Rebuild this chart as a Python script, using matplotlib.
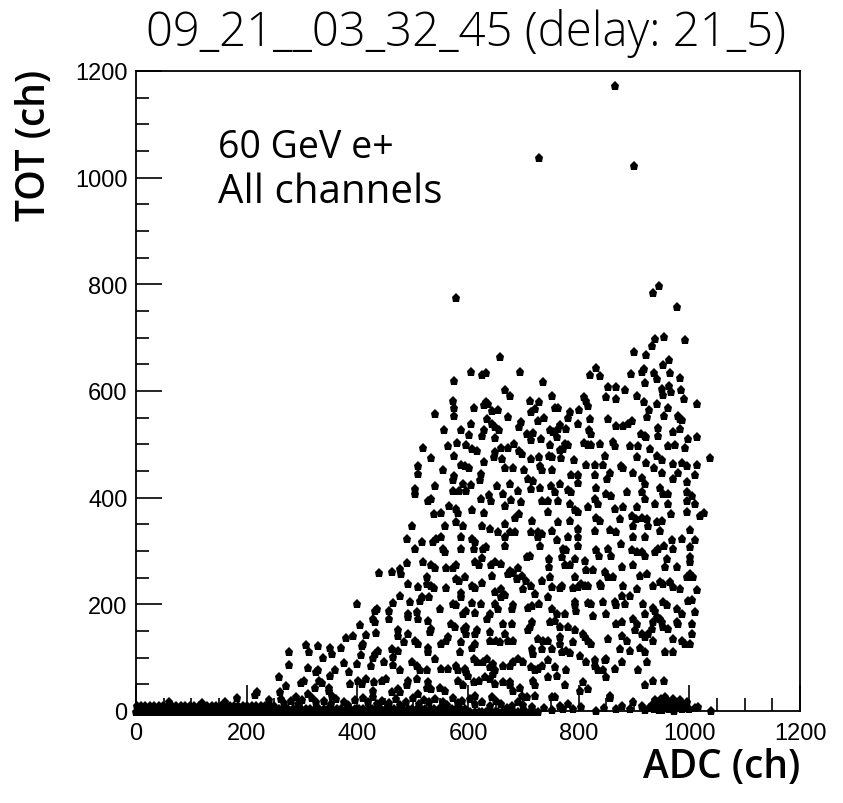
import numpy as np
import matplotlib.pyplot as plt
from matplotlib.ticker import MultipleLocator

# ADC vs TOT scatter

# saturated band near TOT=0: x positions of each row, and the TOT level of the row
band_levels = [-2, 4, 10]
band_row0 = [0, 7, 14, 21, 28, 36, 43, 50, 57, 64, 72, 79, 86, 93, 100, 108, 115, 122, 129, 136,
             144, 151, 158, 165, 172, 180, 187, 194, 201, 208, 216, 223, 230, 237, 244, 252, 259,
             266, 273, 280, 288, 295, 302, 309, 316, 324, 331, 338, 345, 352, 360, 367, 374, 381,
             388, 396, 403, 410, 417, 424, 432, 439, 446, 453, 460, 468, 475, 482, 489, 496, 504,
             511, 518, 525, 532, 540, 547, 554, 561, 568, 576, 583, 590, 597, 604, 612, 619, 626,
             633, 640, 648, 655, 662, 669, 676, 684, 691, 698, 705, 712, 720, 727]
band_row1 = [3, 11, 19, 27, 35, 43, 51, 59, 67, 75, 83, 91, 99, 107, 115, 123, 131, 139, 147, 155,
             163, 171, 179, 187, 195, 203, 211, 219, 227, 235, 243, 251, 259, 267, 275, 283, 291,
             299, 307, 315, 323, 331, 339, 347, 355, 363, 371, 379, 387, 395, 403, 411, 419, 427,
             435, 443, 451, 459, 467, 475, 483, 491, 499, 507, 515, 523, 531, 539, 547, 555, 563,
             571, 579, 587, 595]
band_row2 = [1, 9, 17, 25, 33, 41, 49, 57, 65, 73, 81, 89, 97, 105, 113, 121, 129, 137, 145, 153,
             161, 169, 177, 185, 193, 201, 209, 217, 225, 233, 241, 249]
band_extra = [(182, 24), (215, 30), (240, 20), (262, 22), (280, 18), (300, 20), (318, 24), (340, 18),
              (362, 22), (375, 17), (395, 20), (410, 24), (445, 18), (470, 22), (488, 17), (500, 24),
              (520, 20), (540, 22), (555, 16), (572, 24), (590, 18), (603, 22), (625, 16), (660, 14),
              (680, 10), (700, 12), (715, 8), (690, 16), (268, 15), (292, 13), (326, 16), (352, 14),
              (384, 12), (420, 16), (436, 13), (458, 15), (478, 12), (512, 14), (530, 16), (562, 12),
              (582, 15), (612, 13), (640, 10), (650, 18), (670, 6), (60, 16), (120, 15), (160, 17),
              (738, 6), (752, 2), (766, 9), (772, 4), (781, 13), (790, 3), (805, 8), (832, 0),
              (846, 6), (868, 4), (878, 10), (892, 4), (899, 16), (914, 10), (920, 2),
              (928, 5), (932, 12), (936, 3), (940, 16), (944, 8), (948, 22), (950, 2), (952, 14),
              (956, 26), (958, 7), (962, 18), (964, 3), (968, 11), (970, 22), (974, 5), (976, 15),
              (980, 9), (983, 20), (986, 3), (990, 12), (993, 6), (996, 17), (1000, 4), (938, 20),
              (960, 10), (972, 0), (984, 14), (946, 1), (1010, 5), (1016, 7), (1040, 0)]

cloud_left = [(440, 258), (462, 261), (400, 200), (432, 188), (436, 191), (458, 188), (465, 202),
              (405, 161), (429, 172), (432, 166), (458, 172), (379, 136), (392, 140), (416, 142),
              (434, 146), (411, 126), (408, 122), (370, 118), (351, 118), (354, 107), (329, 121),
              (308, 124), (313, 110), (277, 111), (277, 86), (338, 99), (406, 105), (428, 99),
              (432, 107), (438, 113), (462, 116), (465, 101), (376, 90), (399, 88), (424, 85),
              (448, 91), (465, 86), (311, 80), (325, 74), (329, 77), (360, 77), (385, 73), (351, 65),
              (259, 64), (299, 52), (304, 57), (331, 57), (336, 52), (271, 47), (323, 44), (348, 43),
              (387, 51), (402, 57), (408, 51), (416, 60), (430, 54), (444, 57), (452, 60), (261, 36),
              (219, 35), (311, 32), (290, 26), (348, 38), (354, 29), (429, 38), (462, 35), (429, 26)]

cloud_mid_upper = [(657, 664), (605, 636), (626, 630), (632, 634), (694, 636), (575, 619), (736, 616),
                   (667, 601), (676, 591), (572, 582), (575, 569), (575, 554), (541, 557), (611, 569),
                   (632, 580), (637, 576), (629, 574), (643, 563), (655, 565), (673, 551), (712, 582),
                   (728, 579), (721, 566), (714, 560), (738, 549), (726, 544), (696, 541), (692, 532),
                   (634, 547), (644, 538), (649, 532), (656, 527), (605, 538), (557, 526), (587, 526),
                   (602, 517), (629, 527), (626, 515), (649, 511), (706, 519), (718, 522), (714, 509),
                   (732, 510), (563, 496), (581, 502), (596, 499), (608, 491), (616, 488), (519, 493),
                   (575, 479), (534, 474), (649, 485), (647, 476), (660, 494), (662, 472), (673, 494),
                   (684, 501), (692, 488), (697, 482), (629, 467), (714, 472), (728, 476), (730, 460),
                   (733, 451), (702, 451), (667, 455), (682, 455), (587, 461), (594, 459), (602, 455),
                   (554, 452), (510, 459), (510, 444), (623, 444), (622, 434), (575, 440), (572, 434),
                   (541, 421), (504, 417), (505, 407), (573, 413), (584, 413), (591, 426), (605, 424),
                   (596, 413), (652, 422), (664, 407), (676, 426), (691, 413), (709, 435), (718, 432),
                   (714, 417), (730, 419), (527, 394), (533, 397), (623, 397), (638, 405), (641, 394),
                   (678, 396), (696, 391), (733, 394), (566, 385), (579, 378), (582, 372), (608, 376),
                   (629, 371), (666, 385), (692, 369), (685, 361), (715, 357), (539, 369), (552, 372),
                   (499, 347), (558, 346), (579, 354), (591, 347), (626, 347), (640, 341), (654, 335),
                   (667, 351), (676, 335), (685, 335), (714, 335), (726, 335), (733, 332)]

cloud_mid_lower = [(489, 323), (504, 304), (516, 316), (537, 316), (543, 323), (552, 326), (555, 304),
                   (558, 298), (587, 326), (588, 304), (607, 323), (613, 316), (610, 304), (628, 304),
                   (632, 307), (667, 326), (667, 310), (712, 291), (706, 288), (730, 310), (727, 326),
                   (477, 266), (479, 257), (489, 277), (519, 279), (534, 274), (540, 269), (561, 269),
                   (573, 269), (578, 273), (594, 251), (613, 279), (619, 273), (626, 287), (641, 274),
                   (649, 279), (660, 276), (676, 263), (682, 258), (673, 257), (691, 269), (697, 254),
                   (643, 254), (492, 238), (510, 232), (525, 238), (525, 251), (539, 231), (533, 235),
                   (561, 231), (579, 248), (584, 244), (607, 235), (613, 231), (626, 240), (649, 223),
                   (660, 229), (660, 213), (666, 218), (688, 248), (704, 244), (714, 235), (700, 229),
                   (721, 219), (733, 244), (477, 216), (495, 204), (516, 213), (513, 207), (529, 214),
                   (587, 221), (587, 213), (573, 201), (578, 198), (549, 191), (608, 202), (623, 201),
                   (596, 188), (591, 182), (613, 183), (640, 182), (635, 173), (649, 201), (655, 191),
                   (679, 191), (682, 198), (709, 194), (715, 196), (728, 200), (492, 182), (492, 176),
                   (507, 185), (510, 173), (528, 169), (570, 163), (576, 157), (534, 154), (531, 148),
                   (593, 154), (597, 144), (596, 157), (616, 151), (613, 144), (640, 148), (664, 163),
                   (679, 163), (667, 144), (673, 132), (682, 132), (712, 157), (715, 166), (709, 151),
                   (727, 135), (736, 132), (473, 151), (474, 141), (492, 144), (510, 126), (504, 132),
                   (485, 129), (528, 110), (528, 119), (552, 126), (561, 132), (564, 138), (587, 129),
                   (585, 110), (607, 119), (613, 126), (640, 132), (650, 131), (657, 129), (474, 113),
                   (477, 76), (498, 91), (507, 85), (513, 76), (525, 76), (540, 98), (552, 79), (563, 79),
                   (579, 85), (582, 76), (594, 79), (597, 73), (600, 66), (610, 98), (616, 91), (628, 91),
                   (634, 98), (640, 82), (648, 76), (646, 88), (664, 85), (676, 85), (682, 91), (691, 98),
                   (700, 91), (715, 116), (718, 107), (733, 116), (714, 82), (721, 76), (733, 85),
                   (492, 57), (489, 48), (507, 60), (528, 54), (525, 44), (534, 41), (549, 44), (558, 38),
                   (582, 57), (591, 48), (611, 54), (619, 57), (631, 63), (640, 60), (646, 69), (649, 51),
                   (664, 54), (676, 54), (676, 48), (694, 44), (727, 79), (718, 57), (721, 48), (682, 38),
                   (697, 29), (706, 26), (613, 29), (643, 26), (721, 29), (474, 41), (477, 35), (510, 32)]

cloud_right_upper = [(938, 698), (955, 701), (992, 696), (933, 685), (900, 674), (921, 668), (964, 658),
                     (832, 643), (820, 630), (838, 628), (894, 631), (914, 635), (918, 641), (937, 634),
                     (941, 622), (952, 648), (965, 634), (983, 624), (920, 615), (853, 607), (868, 607),
                     (884, 602), (850, 588), (868, 585), (905, 591), (918, 580), (950, 604), (953, 593),
                     (963, 610), (967, 598), (985, 601), (991, 585), (1013, 576), (941, 576), (961, 569),
                     (927, 565), (924, 551), (955, 553), (979, 554), (983, 548), (986, 546), (810, 588),
                     (814, 582), (817, 571), (752, 591), (757, 568), (762, 569), (784, 560), (781, 549),
                     (800, 565), (820, 548), (853, 548), (868, 535), (881, 534), (890, 538), (897, 544),
                     (766, 536), (763, 529), (748, 526), (754, 524), (760, 513), (778, 529), (798, 538),
                     (818, 526), (822, 519), (912, 519), (920, 516), (921, 513), (943, 530), (943, 516),
                     (971, 524), (983, 529), (998, 510), (1013, 513), (748, 499), (775, 501), (772, 491),
                     (781, 498), (766, 490), (810, 503), (817, 498), (823, 499), (838, 501), (862, 504),
                     (865, 496), (893, 496), (908, 496), (929, 491), (961, 496), (974, 499), (992, 494),
                     (746, 479), (751, 476), (768, 474), (792, 471), (847, 479), (814, 461), (829, 461),
                     (844, 461), (876, 460), (881, 455), (905, 477), (921, 465), (941, 479), (951, 471),
                     (971, 464), (986, 465), (995, 460), (1013, 461), (752, 451), (787, 442), (799, 442),
                     (829, 442), (856, 447), (852, 435), (899, 446), (915, 436), (920, 426), (937, 455),
                     (950, 446), (971, 435), (979, 446), (995, 430), (1010, 442), (750, 422), (757, 411),
                     (766, 426), (781, 415), (786, 410), (798, 428), (832, 419), (850, 407), (859, 404),
                     (887, 410), (914, 410), (920, 398), (947, 419), (953, 407), (962, 407), (995, 411),
                     (1004, 404), (745, 394), (763, 394), (784, 388), (799, 373), (793, 376), (817, 382),
                     (829, 398), (835, 388), (865, 379), (881, 382), (906, 382), (938, 388), (962, 388),
                     (995, 394), (1010, 388), (745, 374), (763, 355), (751, 338), (784, 357), (799, 342),
                     (832, 361), (838, 357), (829, 338), (856, 340), (875, 360), (897, 366), (903, 360),
                     (914, 361), (923, 360), (925, 347), (941, 355), (950, 357), (899, 347), (967, 369),
                     (995, 374), (1019, 366), (1001, 340), (868, 335), (947, 338), (1038, 474),
                     (1026, 371)]

cloud_right_lower = [(760, 320), (781, 326), (799, 326), (799, 310), (772, 304), (778, 301), (769, 288),
                     (775, 273), (784, 273), (793, 285), (811, 282), (832, 301), (837, 290), (853, 304),
                     (859, 290), (876, 314), (896, 301), (905, 298), (914, 298), (920, 291), (899, 326),
                     (920, 326), (938, 298), (944, 304), (955, 310), (968, 320), (971, 304), (986, 323),
                     (1001, 307), (1010, 320), (959, 285), (956, 270), (977, 270), (1001, 288), (1001, 279),
                     (746, 285), (746, 270), (748, 252), (751, 232), (745, 213), (793, 251), (814, 264),
                     (826, 264), (847, 260), (853, 252), (862, 251), (805, 238), (811, 235), (817, 235),
                     (769, 235), (766, 231), (790, 231), (799, 232), (838, 238), (841, 235), (878, 270),
                     (899, 273), (911, 254), (923, 257), (935, 235), (947, 241), (953, 238), (965, 241),
                     (971, 232), (983, 229), (995, 251), (1001, 257), (1007, 251), (1013, 226), (905, 229),
                     (881, 235), (878, 216), (893, 216), (751, 191), (760, 182), (757, 169), (775, 182),
                     (793, 204), (793, 198), (817, 202), (823, 201), (844, 204), (865, 204), (868, 198),
                     (884, 201), (917, 201), (935, 194), (938, 188), (953, 204), (959, 198), (941, 176),
                     (947, 173), (950, 166), (935, 166), (932, 154), (977, 191), (986, 182), (998, 207),
                     (1004, 208), (1010, 185), (796, 188), (826, 179), (850, 182), (868, 163), (878, 166),
                     (899, 173), (905, 163), (920, 182), (953, 157), (962, 154), (977, 166), (980, 163),
                     (1004, 164), (1004, 145), (748, 166), (766, 157), (781, 157), (793, 151), (808, 144),
                     (817, 132), (823, 126), (811, 139), (766, 138), (766, 126), (745, 132), (790, 129),
                     (853, 135), (878, 141), (887, 132), (875, 116), (893, 113), (902, 151), (914, 144),
                     (920, 139), (926, 144), (911, 119), (920, 110), (935, 132), (956, 110), (971, 110),
                     (971, 135), (986, 132), (992, 126), (1001, 126), (751, 116), (769, 110), (778, 113),
                     (784, 108), (745, 95), (802, 104), (814, 91), (829, 95), (829, 85), (847, 95),
                     (850, 98), (878, 91), (923, 91), (757, 82), (778, 76), (835, 76), (844, 76), (850, 63),
                     (865, 79), (908, 76), (745, 63), (760, 66), (775, 48), (808, 54), (935, 57), (920, 48),
                     (955, 57), (751, 26), (757, 26), (802, 38), (817, 41), (856, 29), (856, 24)]

outliers = [(866, 1171), (729, 1037), (900, 1021), (578, 774), (946, 796), (934, 783), (977, 757)]

title = "09_21__03_32_45 (delay: 21_5)"

fig = plt.figure(figsize=(8.43, 8.04), dpi=100)
ax = fig.add_axes([136 / 843, 92 / 804, 664 / 843, 640 / 804])

mk = dict(ls='none', marker='p', ms=6.8, color='black', mew=0)
for lvl, row in zip(band_levels, [band_row0, band_row1, band_row2]):
    ax.plot(row, [lvl] * len(row), clip_on=False, **mk)

for pts in [band_extra, cloud_left, cloud_mid_upper, cloud_mid_lower,
            cloud_right_upper, cloud_right_lower, outliers]:
    a = np.array(pts)
    ax.plot(a[:, 0], a[:, 1], clip_on=False, **mk)

ax.set_xlim(0, 1200)
ax.set_ylim(0, 1200)
for axis in [ax.xaxis, ax.yaxis]:
    axis.set_major_locator(MultipleLocator(200))
    axis.set_minor_locator(MultipleLocator(50))
ax.tick_params(which='major', direction='in', length=19, width=1.2, labelsize=17, pad=6)
ax.tick_params(which='minor', direction='in', length=9.5, width=1.2)
ax.tick_params(axis='x', which='major', pad=8)
for lab in ax.get_xticklabels() + ax.get_yticklabels():
    lab.set_family('Liberation Sans')
for sp in ax.spines.values():
    sp.set_linewidth(1.3)

fig.text(466 / 843, 1 - 33 / 804, title, ha='center', va='center',
         family='Open Sans', fontweight='light', fontsize=34)
fig.text(218 / 843, 1 - 148 / 804, "60 GeV e+", ha='left', va='center',
         family='Open Sans', fontsize=27)
fig.text(218 / 843, 1 - 193 / 804, "All channels", ha='left', va='center',
         family='Open Sans', fontsize=29)
fig.text(800 / 843, 1 - 768 / 804, "ADC (ch)", ha='right', va='center',
         family='Open Sans', fontweight='semibold', fontsize=28)
fig.text(35 / 843, 1 - 145 / 804, "TOT (ch)", ha='center', va='center', rotation=90,
         family='Open Sans', fontweight='semibold', fontsize=28)

fig.savefig('out.png', dpi=100)
